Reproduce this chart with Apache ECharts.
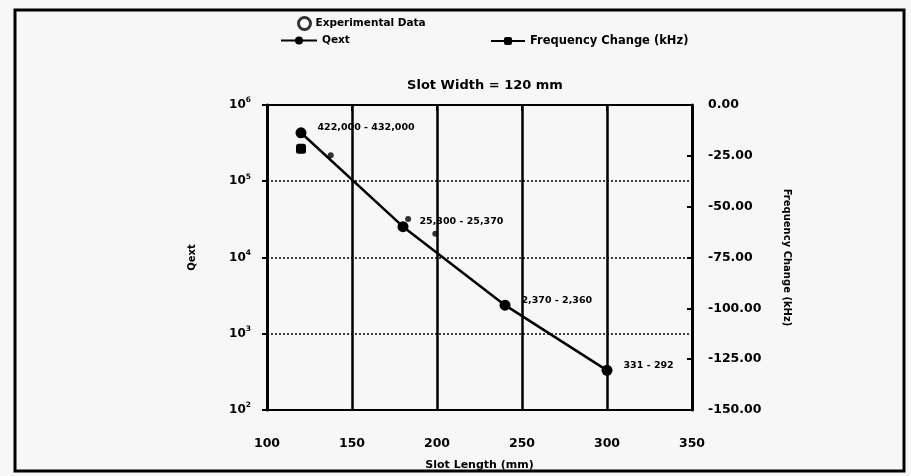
<!DOCTYPE html>
<html>
<head>
<meta charset="utf-8">
<script src="https://cdn.jsdelivr.net/npm/echarts@6/dist/echarts.min.js"></script>
<style>
html,body{margin:0;padding:0;background:#f7f7f7;}
#chart{width:911px;height:476px;}
</style>
</head>
<body>
<div id="chart"></div>
<script>
// ---- data ----
var slotLength = [120, 180, 240, 300];
var qextValues = [432000, 25370, 2370, 331];
var qextLabels = ['422,000 - 432,000', '25,300 - 25,370', '2,370 - 2,360', '331 - 292'];
var expLength = [137.5, 183, 199];
var expValues = [220000, 32000, 20500];
var freqLength = [120];
var freqValues = [-21.5];
var xTicks = [100, 150, 200, 250, 300, 350];
var rightTicks = [0, -25, -50, -75, -100, -125, -150];

var FONT = 'DejaVu Sans';
var chart = echarts.init(document.getElementById('chart'));

var qextData = slotLength.map(function (x, i) { return [x, qextValues[i]]; });
var expData = expLength.map(function (x, i) { return [x, expValues[i]]; });
var freqData = freqLength.map(function (x, i) { return [x, freqValues[i]]; });

var option = {
  backgroundColor: '#f7f7f7',
  animation: false,
  textStyle: { fontFamily: FONT, fontWeight: 'bold', color: '#000' },
  title: {
    text: 'Slot Width = 120 mm',
    left: 480, top: 74, textAlign: 'center',
    textStyle: { fontFamily: FONT, fontWeight: 'bold', fontSize: 13, color: '#000' }
  },
  graphic: [{
    type: 'rect', silent: true,
    shape: { x: 15, y: 10, width: 889, height: 461 },
    style: { fill: 'none', stroke: '#000', lineWidth: 3 }
  }],
  legend: [
    {
      data: [{ name: 'Experimental Data', icon: 'circle', itemStyle: { color: '#fff', borderColor: '#000', borderWidth: 3 } }],
      left: 292, top: 11, itemWidth: 12, itemHeight: 12, itemGap: 4,
      textStyle: { fontFamily: FONT, fontWeight: 'bold', fontSize: 10.5, color: '#000' }
    },
    {
      data: ['Qext'],
      left: 275, top: 30, itemWidth: 36, itemHeight: 10,
      textStyle: { fontFamily: FONT, fontWeight: 'bold', fontSize: 10.5, color: '#000' }
    },
    {
      data: ['Frequency Change (kHz)'],
      left: 485, top: 30, itemWidth: 34, itemHeight: 10,
      textStyle: { fontFamily: FONT, fontWeight: 'bold', fontSize: 11.5, color: '#000' }
    }
  ],
  grid: {
    left: 267, right: 219, top: 105, bottom: 62,
    show: true, borderColor: '#000', borderWidth: 2, backgroundColor: 'transparent'
  },
  xAxis: {
    type: 'value', min: xTicks[0], max: xTicks[xTicks.length - 1], interval: 50,
    name: 'Slot Length (mm)', nameLocation: 'middle', nameGap: 50,
    nameTextStyle: { fontFamily: FONT, fontWeight: 'bold', fontSize: 11, color: '#000' },
    axisLine: { lineStyle: { color: '#000', width: 2 } },
    axisTick: { show: true, inside: false, length: 6, lineStyle: { color: '#000', width: 2 } },
    axisLabel: { margin: 27, fontFamily: FONT, fontWeight: 'bold', fontSize: 12.5, color: '#000' },
    splitLine: { show: true, lineStyle: { color: '#000', width: 2.5, type: 'solid' } }
  },
  yAxis: [
    {
      type: 'log', logBase: 10, min: 100, max: 1000000,
      name: 'Qext', nameLocation: 'middle', nameGap: 70, nameRotate: 90,
      nameTextStyle: { fontFamily: FONT, fontWeight: 'bold', fontSize: 10, color: '#000' },
      axisLine: { show: true, lineStyle: { color: '#000', width: 3 } },
      axisTick: { show: true, inside: false, length: 5, lineStyle: { color: '#000', width: 2 } },
      axisLabel: {
        margin: 16,
        formatter: function (v) {
          var e = Math.round(Math.log(v) / Math.LN10);
          return '{b|10}{s|' + e + '}';
        },
        rich: {
          b: { fontFamily: FONT, fontWeight: 'bold', fontSize: 12, color: '#000', lineHeight: 14 },
          s: { fontFamily: FONT, fontWeight: 'bold', fontSize: 7.5, color: '#000', lineHeight: 8, padding: [0, 0, 9, 0] }
        }
      },
      splitLine: { show: true, lineStyle: { color: '#000', width: 1.5, type: [2, 2] } }
    },
    {
      type: 'value', min: rightTicks[rightTicks.length - 1], max: rightTicks[0], interval: 25,
      position: 'right',
      name: 'Frequency Change (kHz)', nameLocation: 'middle', nameGap: 90, nameRotate: -90,
      nameTextStyle: { fontFamily: FONT, fontWeight: 'bold', fontSize: 10, color: '#000' },
      axisLine: { show: true, lineStyle: { color: '#000', width: 3 } },
      axisTick: { show: true, inside: true, length: 5, lineStyle: { color: '#000', width: 2 } },
      axisLabel: {
        margin: 16, fontFamily: FONT, fontWeight: 'bold', fontSize: 12.5, color: '#000',
        formatter: function (v) { return v.toFixed(2); }
      },
      splitLine: { show: false }
    }
  ],
  series: [
    {
      name: 'Experimental Data', type: 'scatter', yAxisIndex: 0,
      symbol: 'circle', symbolSize: 6,
      itemStyle: { color: '#000' },
      data: expData, z: 5
    },
    {
      name: 'Qext', type: 'line', yAxisIndex: 0,
      symbol: 'circle', symbolSize: 11,
      lineStyle: { color: '#000', width: 2.5 },
      itemStyle: { color: '#000' },
      label: {
        show: true, position: 'right', distance: 11, offset: [0, -5],
        fontFamily: FONT, fontWeight: 'bold', fontSize: 9.5, color: '#000',
        formatter: function (p) { return qextLabels[p.dataIndex]; }
      },
      data: qextData, z: 4
    },
    {
      name: 'Frequency Change (kHz)', type: 'line', yAxisIndex: 1,
      symbol: 'roundRect', symbolSize: 10,
      lineStyle: { color: '#000', width: 2.5 },
      itemStyle: { color: '#000' },
      data: freqData, z: 4
    }
  ]
};
chart.setOption(option);
</script>
</body>
</html>
